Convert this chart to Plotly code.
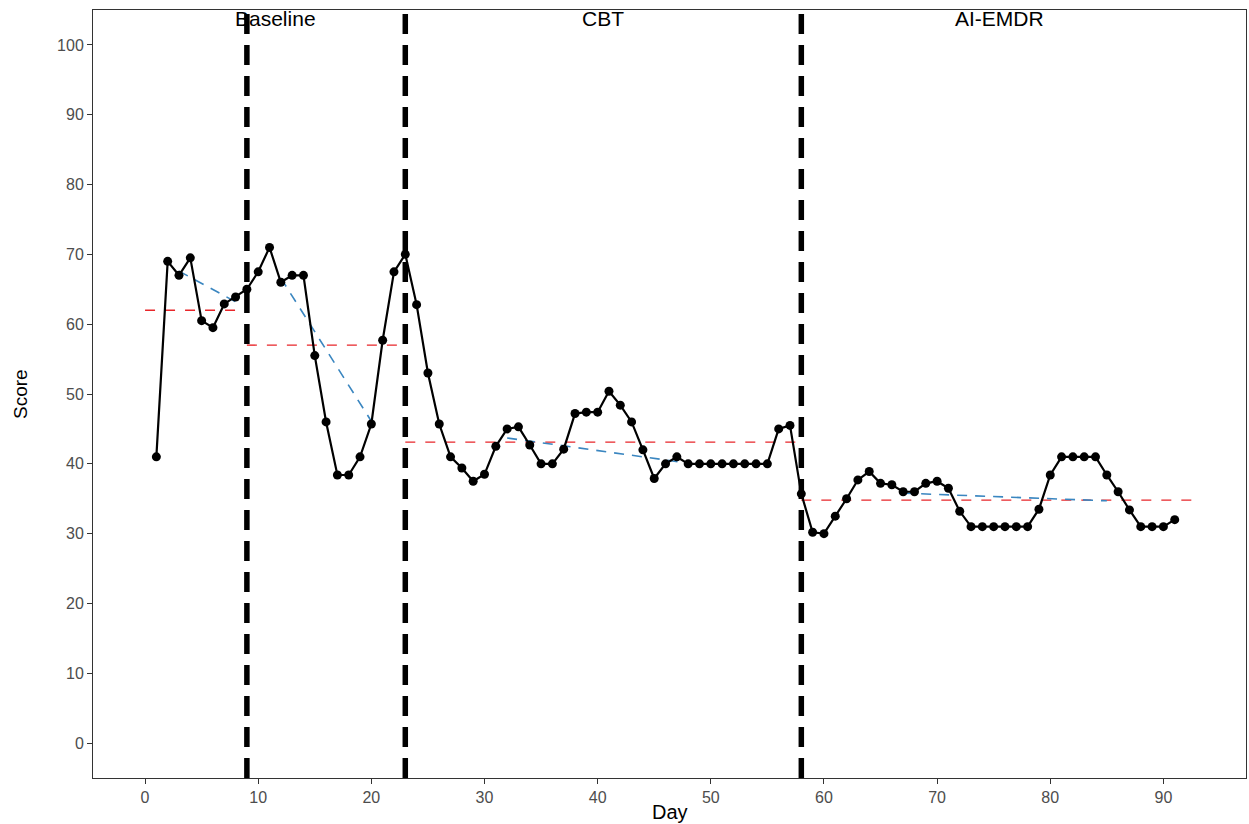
import plotly.graph_objects as go

# ---------------- data ----------------
days = list(range(1, 92))
scores = [
    41.0, 69.0, 67.0, 69.5, 60.5, 59.5, 62.9, 63.9, 65.0,            # 1-9
    67.5, 71.0, 66.0, 67.0, 67.0, 55.5, 46.0, 38.4, 38.4, 41.0,      # 10-19
    45.7, 57.7, 67.5, 70.0,                                          # 20-23
    62.8, 53.0, 45.7, 41.0, 39.4, 37.5, 38.5, 42.5, 45.0, 45.3,      # 24-33
    42.7, 40.0, 40.0, 42.1, 47.2, 47.4, 47.4, 50.4, 48.4, 46.0,      # 34-43
    42.0, 37.9, 40.0, 41.0, 40.0, 40.0, 40.0, 40.0, 40.0, 40.0,      # 44-53
    40.0, 40.0, 45.0, 45.5, 35.7,                                    # 54-58
    30.2, 30.0, 32.5, 35.0, 37.7, 38.9, 37.2, 37.0, 36.0, 36.0,      # 59-68
    37.2, 37.5, 36.5, 33.2, 31.0, 31.0, 31.0, 31.0, 31.0, 31.0,      # 69-78
    33.5, 38.4, 41.0, 41.0, 41.0, 41.0, 38.4, 36.0, 33.4, 31.0,      # 79-88
    31.0, 31.0, 32.0,                                                # 89-91
]

phase_lines = [9, 23, 58]
phase_names = ["Baseline", "CBT", "AI-EMDR"]
phase_label_x = [11.5, 40.5, 75.5]

# phase mean lines (red dashed)
mean_x0 = [0, 9, 23, 58]
mean_x1 = [9, 23, 58, 93]
mean_y = [62.0, 57.0, 43.1, 34.8]

# trend lines (blue dashed)
trend_x0 = [3, 12, 32, 67]
trend_x1 = [8, 20, 48, 85]
trend_y0 = [67.6, 66.6, 43.7, 35.8]
trend_y1 = [63.2, 46.1, 40.1, 34.7]

x_ticks = list(range(0, 100, 10))
y_ticks = list(range(0, 110, 10))

FONT = "Liberation Sans, Arial, sans-serif"

# ---------------- figure ----------------
fig = go.Figure()

for x0, x1, y in zip(mean_x0, mean_x1, mean_y):
    fig.add_trace(go.Scatter(
        x=[x0, x1], y=[y, y], mode="lines",
        line=dict(color="#E8262A", width=1.4, dash="10px,10px"),
        showlegend=False, hoverinfo="skip"))

for x0, x1, y0, y1 in zip(trend_x0, trend_x1, trend_y0, trend_y1):
    fig.add_trace(go.Scatter(
        x=[x0, x1], y=[y0, y1], mode="lines",
        line=dict(color="#3A86C0", width=1.6, dash="10px,8px"),
        showlegend=False, hoverinfo="skip"))

fig.add_trace(go.Scatter(
    x=days, y=scores, mode="lines+markers",
    line=dict(color="black", width=2.2),
    marker=dict(color="black", size=9),
    showlegend=False))

for xv in phase_lines:
    fig.add_shape(type="line", xref="x", yref="paper",
                  x0=xv, x1=xv, y0=0, y1=1,
                  line=dict(color="black", width=5.5, dash="20px,11px"),
                  layer="above")

for name, xv in zip(phase_names, phase_label_x):
    fig.add_annotation(x=xv, y=1, xref="x", yref="paper", text=name,
                       showarrow=False, yanchor="middle", yshift=-8,
                       font=dict(family=FONT, size=21, color="black"))

# axis titles
fig.add_annotation(x=0, y=0.5, xref="paper", yref="paper", text="Score",
                   showarrow=False, textangle=-90, xanchor="center",
                   yanchor="middle", xshift=-73,
                   font=dict(family=FONT, size=19, color="black"))
fig.add_annotation(x=0.5, y=0, xref="paper", yref="paper", text="Day",
                   showarrow=False, xanchor="center", yanchor="middle",
                   yshift=-34, font=dict(family=FONT, size=20, color="black"))

fig.update_layout(
    width=1249, height=824,
    margin=dict(l=93, r=3, t=10, b=46, autoexpand=False),
    paper_bgcolor="white", plot_bgcolor="white",
    font=dict(family=FONT),
)

fig.update_xaxes(
    range=[-4.6, 97.3], tickvals=x_ticks, ticktext=[str(v) for v in x_ticks],
    showgrid=False, zeroline=False, automargin=False,
    showline=True, linecolor="#333333", linewidth=1, mirror=True,
    ticks="outside", ticklen=5, tickcolor="#333333", tickwidth=1,
    tickfont=dict(size=16, color="#4D4D4D"),
)
fig.update_yaxes(
    range=[-5, 105], tickvals=y_ticks, ticktext=[str(v) for v in y_ticks],
    showgrid=False, zeroline=False, automargin=False,
    showline=True, linecolor="#333333", linewidth=1, mirror=True,
    ticks="outside", ticklen=5, tickcolor="#333333", tickwidth=1,
    tickfont=dict(size=16, color="#4D4D4D"),
)

fig.write_html(
    "out.html",
    config={"displayModeBar": False},
    post_script="document.body.style.margin='0';document.body.style.overflow='hidden';",
)
